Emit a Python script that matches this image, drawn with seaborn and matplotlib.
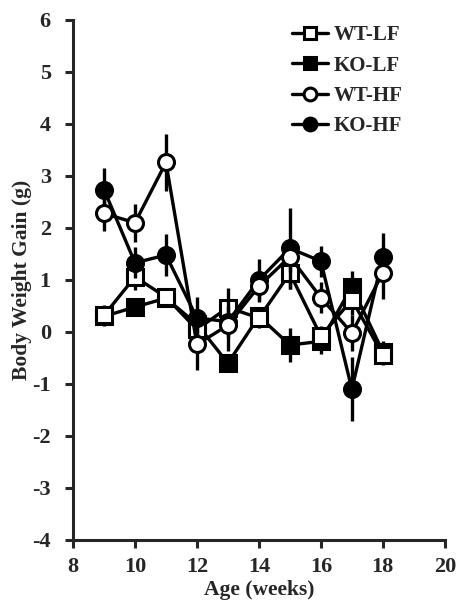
import numpy as np
import pandas as pd
import matplotlib
matplotlib.use("Agg")
import matplotlib.pyplot as plt
import seaborn as sns

# Weekly body weight gain (g), mean and SEM per group
weeks = [9, 10, 11, 12, 13, 14, 15, 16, 17, 18]
groups = ["WT-LF", "KO-LF", "WT-HF", "KO-HF"]

wt_lf = [0.32, 1.06, 0.67, 0.05, 0.47, 0.27, 1.13, -0.08, 0.62, -0.44]
ko_lf = [0.30, 0.48, 0.65, 0.15, -0.60, 0.30, -0.25, -0.18, 0.87, -0.38]
wt_hf = [2.28, 2.10, 3.26, -0.24, 0.13, 0.88, 1.45, 0.66, -0.02, 1.14]
ko_hf = [2.74, 1.33, 1.48, 0.27, 0.20, 1.00, 1.61, 1.36, -1.10, 1.45]

wt_lf_sem = [0.20, 0.25, 0.15, 0.15, 0.37, 0.20, 0.30, 0.20, 0.30, 0.20]
ko_lf_sem = [0.10, 0.10, 0.10, 0.10, 0.10, 0.10, 0.33, 0.25, 0.30, 0.20]
wt_hf_sem = [0.33, 0.36, 0.55, 0.50, 0.50, 0.30, 0.30, 0.30, 0.35, 0.50]
ko_hf_sem = [0.42, 0.30, 0.40, 0.40, 0.30, 0.40, 0.78, 0.30, 0.62, 0.46]

means = {"WT-LF": wt_lf, "KO-LF": ko_lf, "WT-HF": wt_hf, "KO-HF": ko_hf}
sems = {"WT-LF": wt_lf_sem, "KO-LF": ko_lf_sem, "WT-HF": wt_hf_sem, "KO-HF": ko_hf_sem}

df = pd.concat(
    [pd.DataFrame({"week": weeks, "gain": means[g], "sem": sems[g], "group": g}) for g in groups],
    ignore_index=True,
)

sns.set_style("ticks")
plt.rcParams["font.family"] = ["Liberation Serif", "DejaVu Serif"]
plt.rcParams["font.weight"] = "bold"
plt.rcParams["axes.unicode_minus"] = False

fig = plt.figure(figsize=(4.6, 6.02), dpi=100)
ax = fig.add_axes([0.1587, 0.103, 0.8083, 0.8638])

styles = {
    "WT-LF": dict(marker="s", mfc="white", z=4),
    "KO-LF": dict(marker="s", mfc="black", z=3),
    "WT-HF": dict(marker="o", mfc="white", z=6),
    "KO-HF": dict(marker="o", mfc="black", z=5),
}

handles = {}
for g in ["KO-LF", "WT-LF", "KO-HF", "WT-HF"]:
    sub = df[df["group"] == g]
    st = styles[g]
    ax.errorbar(sub["week"], sub["gain"], yerr=sub["sem"], fmt="none",
                ecolor="black", elinewidth=2.4, capsize=0, zorder=st["z"] - 0.5)
    sns.lineplot(data=sub, x="week", y="gain", ax=ax, color="black",
                 linewidth=2.4, marker=st["marker"], markersize=11.5,
                 markerfacecolor=st["mfc"], markeredgecolor="black",
                 markeredgewidth=2.2, zorder=st["z"], label=g, legend=False)
    handles[g] = ax.lines[-1]

ax.set_xlim(8, 20)
ax.set_ylim(-4, 6)
ax.set_xticks(np.arange(8, 21, 2))
ax.set_yticks(np.arange(-4, 7, 1))
ax.tick_params(axis="both", direction="out", length=6, width=2.2, labelsize=16)
ax.tick_params(axis="y", pad=10)
ax.tick_params(axis="x", pad=6)
for lab in ax.get_xticklabels() + ax.get_yticklabels():
    lab.set_fontweight("bold")
for side in ["left", "bottom"]:
    ax.spines[side].set_linewidth(2.2)
sns.despine(ax=ax)

ax.set_xlabel("Age (weeks)", fontsize=15.5, fontweight="bold")
ax.xaxis.set_label_coords(0.5, -0.076)
ax.set_ylabel("Body Weight Gain (g)", fontsize=15.5, fontweight="bold")
ax.yaxis.set_label_coords(-0.11, 0.5)

leg = ax.legend([handles[g] for g in groups], groups, loc="upper left",
                bbox_to_anchor=(0.589, 0.99), frameon=False, handlelength=1.75,
                handletextpad=0.25, labelspacing=0.5, markerscale=0.8,
                borderpad=0, borderaxespad=0,
                prop={"family": "Liberation Serif", "weight": "bold", "size": 15})

fig.savefig("out.png", dpi=100)
